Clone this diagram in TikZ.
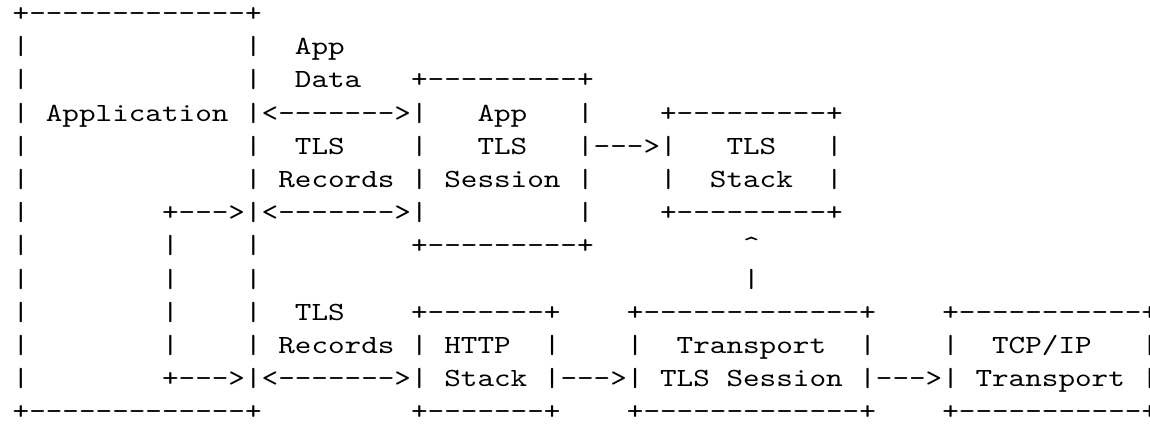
\documentclass[tikz,border=0pt]{standalone}
\usepackage{tikz}
\font\ascfont="[lmmono10-regular]:extend=1.2068" at 26.2bp

\begin{document}
\begin{tikzpicture}[x=16.6bp,y=33.2bp,
  asc/.style={font=\ascfont,anchor=base west,inner sep=0pt,outer sep=0pt}
]
  \useasboundingbox[fill=white] (-0.765,0.645) rectangle (68.512,-12.12);
  % application box, left and inner walls
  \node[asc] (apptop) at (0,0)   {+-------------+};
  \node[asc] (appbot) at (0,-12) {+-------------+};
  \foreach \r in {2,...,12} \node[asc] (lft\r) at (0,{1-\r}) {|};
  \foreach \r in {2,3,5,6,8,9,10,11} \node[asc] (mid\r) at (14,{1-\r}) {|};
  \foreach \r in {8,...,11} \node[asc] (inn\r) at (9,{1-\r}) {|};
  \node[asc] (appl) at (2,-3) {Application};
  % upper path: app data and records
  \node[asc] (appd1) at (17,-1) {App};
  \node[asc] (appd2) at (17,-2) {Data};
  \node[asc] (appar) at (14,-3) {|<------->|};
  \node[asc] (recu1) at (17,-4) {TLS};
  \node[asc] (recu2) at (16,-5) {Records};
  \node[asc] (recar) at (9,-6)  {+--->|<------->|};
  % app TLS session
  \node[asc] (sestop) at (24,-2) {+---------+};
  \node[asc] (sesa) at (28,-3) {App};
  \node[asc] (sesr1) at (34,-3) {|};
  \node[asc] (sesl2) at (24,-4) {|};
  \node[asc] (sesb) at (28,-4) {TLS};
  \node[asc] (sesar) at (34,-4) {|--->|};
  \node[asc] (sesl3) at (24,-5) {|};
  \node[asc] (sesc) at (26,-5) {Session};
  \node[asc] (sesr3) at (34,-5) {|};
  \node[asc] (sesr4) at (34,-6) {|};
  \node[asc] (sesbot) at (24,-7) {+---------+};
  % TLS stack
  \node[asc] (stktop) at (39,-3) {+---------+};
  \node[asc] (stka) at (43,-4) {TLS};
  \node[asc] (stkr1) at (49,-4) {|};
  \node[asc] (stkl2) at (39,-5) {|};
  \node[asc] (stkb) at (42,-5) {Stack};
  \node[asc] (stkr2) at (49,-5) {|};
  \node[asc] (stkbot) at (39,-6) {+---------+};
  \node[asc] (uptip) at (44,-7) {\char94};
  \node[asc] (upbar) at (44,-8) {|};
  % lower path: records
  \node[asc] (recl1) at (17,-9)  {TLS};
  \node[asc] (recl2) at (16,-10) {Records};
  \node[asc] (recbar) at (9,-11) {+--->|<------->|};
  % HTTP stack
  \node[asc] (httptop) at (24,-9)  {+-------+};
  \node[asc] (httpl) at (24,-10) {|};
  \node[asc] (httpa) at (26,-10) {HTTP};
  \node[asc] (httpr) at (32,-10) {|};
  \node[asc] (httpb) at (26,-11) {Stack};
  \node[asc] (httpar) at (32,-11) {|--->|};
  \node[asc] (httpbot) at (24,-12) {+-------+};
  % transport TLS session
  \node[asc] (trtop) at (37,-9)  {+-------------+};
  \node[asc] (trl) at (37,-10) {|};
  \node[asc] (tra) at (40,-10) {Transport};
  \node[asc] (trr) at (51,-10) {|};
  \node[asc] (trb1) at (39,-11) {TLS};
  \node[asc] (trb2) at (43,-11) {Session};
  \node[asc] (trar) at (51,-11) {|--->|};
  \node[asc] (trbot) at (37,-12) {+-------------+};
  % TCP/IP transport
  \node[asc] (tcptop) at (56,-9)  {+-----------+};
  \node[asc] (tcpl) at (56,-10) {|};
  \node[asc] (tcpa) at (59,-10) {TCP/IP};
  \node[asc] (tcpr1) at (68,-10) {|};
  \node[asc] (tcpb) at (58,-11) {Transport};
  \node[asc] (tcpr2) at (68,-11) {|};
  \node[asc] (tcpbot) at (56,-12) {+-----------+};
\end{tikzpicture}
\end{document}
